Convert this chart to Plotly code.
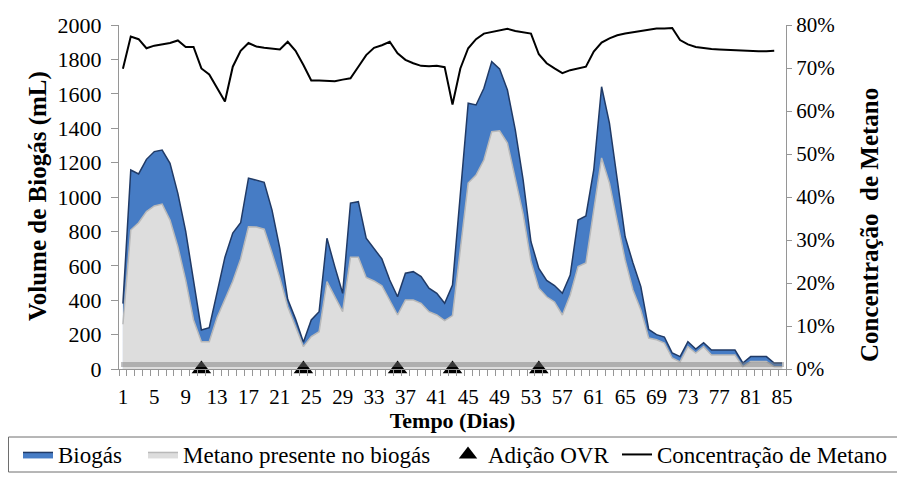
import plotly.graph_objects as go

days = list(range(1, 86))

biogas = [380, 1157, 1134, 1219, 1264, 1273, 1196, 1021, 800, 520,
          227, 240, 440, 650, 790, 850, 1110, 1099, 1085, 924,
          700, 405, 290, 155, 285, 333, 760, 595, 440, 965,
          973, 760, 697, 640, 517, 420, 557, 566, 537, 470,
          440, 382, 488, 1000, 1545, 1535, 1632, 1787, 1745, 1622,
          1390, 1099, 740, 585, 515, 485, 440, 546, 866, 890,
          1157, 1641, 1430, 1099, 769, 616, 479, 230, 200, 186,
          93, 72, 159, 116, 153, 110, 110, 110, 110, 35,
          72, 72, 72, 35, 35]

metano = [260, 808, 850, 915, 948, 959, 866, 711, 517, 285,
          159, 159, 300, 400, 510, 640, 827, 825, 813, 674,
          529, 362, 246, 130, 188, 217, 508, 420, 333, 650,
          650, 532, 512, 484, 401, 314, 401, 401, 382, 333,
          314, 281, 310, 709, 1081, 1128, 1215, 1380, 1385, 1314,
          1100, 900, 625, 470, 420, 390, 314, 430, 595, 616,
          924, 1227, 1081, 866, 634, 459, 343, 180, 170, 151,
          64, 41, 130, 93, 130, 81, 81, 81, 81, 13,
          43, 43, 43, 13, 13]

concentracao = [0.698, 0.773, 0.767, 0.746, 0.752, 0.755, 0.758, 0.764, 0.749, 0.749,
                0.699, 0.685, 0.654, 0.622, 0.703, 0.740, 0.758, 0.750, 0.747, 0.745,
                0.743, 0.761, 0.740, 0.707, 0.671, 0.671, 0.670, 0.669, 0.673, 0.676,
                0.703, 0.730, 0.747, 0.753, 0.761, 0.734, 0.719, 0.711, 0.705, 0.704,
                0.705, 0.702, 0.615, 0.699, 0.746, 0.767, 0.780, 0.784, 0.788, 0.791,
                0.786, 0.783, 0.780, 0.732, 0.711, 0.699, 0.688, 0.695, 0.699, 0.703,
                0.738, 0.759, 0.769, 0.776, 0.780, 0.783, 0.786, 0.789, 0.792, 0.792,
                0.793, 0.765, 0.755, 0.749, 0.746, 0.744, 0.743, 0.742, 0.741, 0.740,
                0.739, 0.739, 0.739, 0.740, None]

ovr_days = [11, 24, 36, 43, 54]
ovr_values = [0, 0, 0, 0, 0]

x_tick_vals = list(range(1, 86, 4))
x_tick_text = [str(v) for v in x_tick_vals]

FONT = "Liberation Serif, Times New Roman, serif"
AXIS_GRAY = "rgb(150,150,150)"

# page body has an 8px margin: the figure is placed at (8, 8) in the window
OFF = 8
W, H = 905 - OFF, 482 - OFF
# plot area in window pixels: x 119..786, y 25..369
ML, MT = 119 - OFF, 25 - OFF
MR, MB = W - (786 - OFF), H - (369 - OFF)
PW, PH = W - ML - MR, H - MT - MB


def px_x(p):
    return (p - OFF - ML) / PW


def px_y(p):
    return (H - MB - (p - OFF)) / PH


fig = go.Figure()

fig.add_trace(go.Scatter(
    x=days, y=biogas, name="Biogás", mode="lines",
    fill="tozeroy", fillcolor="rgb(70,124,197)",
    line=dict(color="rgb(32,58,102)", width=1.5), legend="legend",
))
fig.add_trace(go.Scatter(
    x=days, y=metano, name="Metano presente no biogás", mode="lines",
    fill="tozeroy", fillcolor="rgb(221,221,221)",
    line=dict(color="rgb(185,185,185)", width=1.5), legend="legend2",
))
fig.add_trace(go.Scatter(
    x=ovr_days, y=ovr_values, name="Adição OVR", mode="markers",
    marker=dict(symbol="triangle-up", size=17, color="black"),
    cliponaxis=False, legend="legend3",
))
fig.add_trace(go.Scatter(
    x=days, y=concentracao, name="Concentração de Metano", mode="lines",
    line=dict(color="black", width=2), yaxis="y2", legend="legend4",
))

leg_y = 1 - (454.5 - OFF) / H


def leg(text_start_px):
    left = text_start_px - 40 - OFF
    return dict(
        orientation="h", xref="container", yref="container",
        x=left / W, xanchor="left", y=leg_y, yanchor="middle",
        borderwidth=0, bgcolor="rgba(0,0,0,0)",
        font=dict(family=FONT, size=23), itemwidth=30,
    )


fig.update_layout(
    width=W, height=H,
    margin=dict(l=ML, r=MR, t=MT, b=MB),
    paper_bgcolor="white", plot_bgcolor="white",
    font=dict(family=FONT, size=21, color="black"),
    showlegend=True,
    legend=leg(58), legend2=leg(183), legend3=leg(488), legend4=leg(657),
    xaxis=dict(
        range=[0.5, 85.5], tickvals=x_tick_vals, ticktext=x_tick_text,
        ticks="", showgrid=False, zeroline=False, automargin=False,
        showline=True, linecolor=AXIS_GRAY, linewidth=1,
        tickfont=dict(family=FONT, size=21), ticklabelstandoff=9,
        minor=dict(tick0=0.5, dtick=1, ticks="outside", ticklen=6,
                   tickcolor=AXIS_GRAY, showgrid=False),
        title=dict(text="<b>Tempo (Dias)</b>", font=dict(family=FONT, size=22), standoff=11),
    ),
    yaxis=dict(
        range=[0, 2000], dtick=200, showgrid=False, zeroline=False, automargin=False,
        showline=True, linecolor=AXIS_GRAY, linewidth=1,
        ticks="outside", ticklen=7, tickcolor=AXIS_GRAY, ticklabelstandoff=5,
        tickfont=dict(family=FONT, size=22),
    ),
    yaxis2=dict(
        range=[0, 0.8], dtick=0.1, tickformat=".0%", overlaying="y", side="right",
        showgrid=False, zeroline=False, automargin=False,
        showline=True, linecolor=AXIS_GRAY, linewidth=1,
        ticks="outside", ticklen=5, tickcolor=AXIS_GRAY, ticklabelstandoff=0,
        tickfont=dict(family=FONT, size=21),
    ),
    annotations=[
        dict(text="<b>Volume de Biogás (mL)</b>", textangle=-90,
             xref="paper", yref="paper", x=px_x(38), y=px_y(196),
             xanchor="center", yanchor="middle", showarrow=False,
             font=dict(family=FONT, size=25)),
        dict(text="<b>Concentração  de Metano</b>", textangle=-90,
             xref="paper", yref="paper", x=px_x(870), y=px_y(225),
             xanchor="center", yanchor="middle", showarrow=False,
             font=dict(family=FONT, size=25)),
    ],
    shapes=[
        dict(type="rect", xref="x domain", yref="y domain",
             x0=0.003, x1=0.997, y0=0.006, y1=0.02,
             fillcolor="rgb(120,120,120)", opacity=0.45,
             line=dict(width=0), layer="above"),
        dict(type="rect", xref="paper", yref="paper",
             x0=px_x(8.5), x1=px_x(900), y0=px_y(472), y1=px_y(437),
             fillcolor="rgba(0,0,0,0)", line=dict(color="rgb(110,110,110)", width=1),
             layer="below"),
    ],
)

fig.write_html("out.html")
